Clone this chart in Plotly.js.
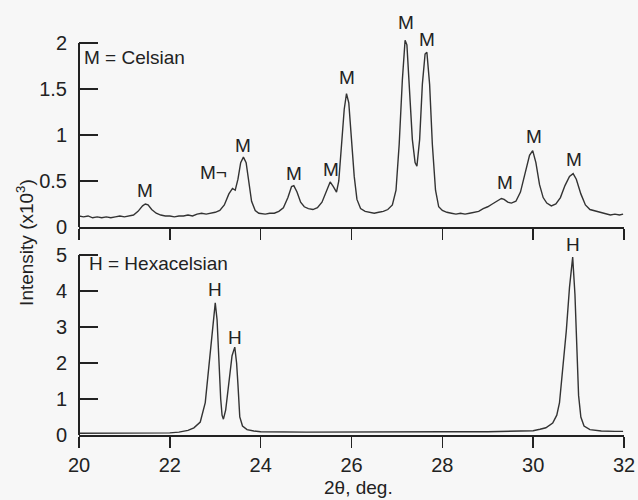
<!DOCTYPE html>
<html>
<head>
<meta charset="utf-8">
<script src="https://cdn.plot.ly/plotly-3.0.1.min.js"></script>
<style>html,body{margin:0;padding:0;background:#f7f7f7;}#chart{width:638px;height:500px;}</style>
</head>
<body>
<div id="chart"></div>
<script>
// Celsian pattern (top panel)
const celsianX = [20.00,20.10,20.20,20.30,20.40,20.50,20.60,20.70,20.80,20.90,21.00,21.10,21.20,21.30,21.40,21.46,21.52,21.60,21.70,21.80,21.90,22.00,22.10,22.20,22.30,22.40,22.50,22.60,22.70,22.80,22.90,23.00,23.10,23.20,23.30,23.38,23.44,23.50,23.56,23.62,23.68,23.74,23.80,23.88,23.96,24.10,24.20,24.30,24.40,24.50,24.60,24.68,24.73,24.80,24.88,24.96,25.05,25.15,25.25,25.35,25.45,25.53,25.60,25.67,25.72,25.78,25.84,25.89,25.94,26.00,26.06,26.12,26.20,26.30,26.40,26.50,26.60,26.70,26.80,26.90,26.98,27.05,27.12,27.18,27.22,27.28,27.34,27.40,27.44,27.50,27.56,27.62,27.66,27.72,27.78,27.85,27.92,28.00,28.10,28.20,28.30,28.40,28.50,28.60,28.70,28.80,28.90,29.00,29.10,29.20,29.30,29.36,29.44,29.52,29.62,29.72,29.82,29.92,29.99,30.06,30.14,30.22,30.30,30.40,30.50,30.60,30.70,30.80,30.88,30.95,31.05,31.15,31.25,31.40,31.50,31.60,31.70,31.80,31.90,31.98];
const celsianY = [0.12,0.11,0.12,0.10,0.11,0.10,0.11,0.10,0.11,0.12,0.11,0.12,0.13,0.17,0.23,0.25,0.24,0.19,0.15,0.13,0.12,0.12,0.11,0.12,0.12,0.13,0.12,0.14,0.15,0.14,0.15,0.16,0.18,0.24,0.36,0.42,0.40,0.52,0.70,0.76,0.70,0.48,0.28,0.18,0.15,0.14,0.15,0.15,0.17,0.21,0.32,0.44,0.45,0.38,0.27,0.22,0.20,0.19,0.21,0.27,0.40,0.49,0.44,0.38,0.50,0.85,1.28,1.45,1.35,0.95,0.55,0.30,0.20,0.17,0.16,0.15,0.16,0.17,0.19,0.24,0.40,0.90,1.60,2.03,1.98,1.45,0.95,0.70,0.66,0.95,1.55,1.88,1.90,1.55,0.90,0.40,0.22,0.18,0.16,0.15,0.14,0.15,0.14,0.15,0.16,0.17,0.20,0.22,0.25,0.28,0.31,0.30,0.27,0.26,0.28,0.38,0.58,0.78,0.83,0.70,0.46,0.32,0.26,0.23,0.25,0.32,0.45,0.55,0.58,0.52,0.36,0.24,0.19,0.17,0.15,0.14,0.13,0.14,0.13,0.14];

// Hexacelsian pattern (bottom panel)
const hexaX = [20.0,20.5,21.0,21.5,22.0,22.2,22.4,22.53,22.67,22.78,22.9,22.96,23.0,23.04,23.08,23.12,23.15,23.18,23.23,23.3,23.37,23.43,23.47,23.5,23.54,23.6,23.7,23.85,24.0,25.0,26.0,27.0,28.0,29.0,29.8,30.0,30.15,30.28,30.43,30.52,30.58,30.65,30.73,30.8,30.87,30.92,30.96,31.0,31.05,31.12,31.25,31.5,31.8,31.98];
const hexaY = [0.05,0.05,0.04,0.05,0.06,0.08,0.13,0.2,0.36,0.9,2.44,3.3,3.67,3.2,2.0,1.0,0.55,0.44,0.7,1.5,2.2,2.44,2.0,1.4,0.5,0.25,0.15,0.11,0.09,0.08,0.09,0.10,0.09,0.09,0.11,0.12,0.16,0.2,0.33,0.55,0.9,1.8,2.9,4.1,4.94,3.9,2.2,1.1,0.5,0.25,0.15,0.11,0.10,0.10];

// Peak labels
const mLabelX = [21.46,22.63,23.62,24.73,25.55,25.9,27.2,27.67,29.37,30.01,30.9];
const mLabelY = [0.40,0.59,0.89,0.58,0.62,1.63,2.22,2.04,0.48,0.98,0.73];
const mLabelText = ["M","M¬","M","M","M","M","M","M","M","M","M"];
const hLabelX = [23.0,23.43,30.87];
const hLabelY = [4.05,2.72,5.28];
const hLabelText = ["H","H","H"];

const xTicks = [20,22,24,26,28,30,32];
const topTicks = [0,0.5,1,1.5,2];
const topTickText = ["0","0.5","1","1.5","2"];
const botTicks = [0,1,2,3,4,5];

const ink = '#222222';
const lineInk = '#333333';
const fontFam = 'Liberation Sans, Arial, sans-serif';
const labelFont = {size:19, color:ink, family:fontFam};

const traces = [
  {x: celsianX, y: celsianY, xaxis:'x', yaxis:'y', mode:'lines', line:{color:lineInk, width:1.4}, hoverinfo:'skip'},
  {x: hexaX, y: hexaY, xaxis:'x2', yaxis:'y2', mode:'lines', line:{color:lineInk, width:1.4}, hoverinfo:'skip'}
];

const annotations = [];
mLabelX.forEach((x,i)=>annotations.push({x:x, y:mLabelY[i], xref:'x', yref:'y', text:mLabelText[i], showarrow:false,
  xanchor: mLabelText[i]==='M' ? 'center' : 'left', yanchor:'middle', font:labelFont}));
hLabelX.forEach((x,i)=>annotations.push({x:x, y:hLabelY[i], xref:'x2', yref:'y2', text:hLabelText[i], showarrow:false,
  xanchor:'center', yanchor:'middle', font:labelFont}));
annotations.push({x:0, y:0.783, xref:'x domain', yref:'y domain', xshift:3, text:'M = Celsian', showarrow:false,
  xanchor:'left', yanchor:'middle', font:labelFont});
annotations.push({x:0, y:0.873, xref:'x2 domain', yref:'y2 domain', xshift:8, text:'H = Hexacelsian', showarrow:false,
  xanchor:'left', yanchor:'middle', font:labelFont});
annotations.push({x:0, y:0.452, xref:'paper', yref:'paper', xshift:-54, text:'Intensity (x10<sup>3</sup>)', textangle:-90,
  showarrow:false, xanchor:'center', yanchor:'middle', font:labelFont});
annotations.push({x:0.5, y:0, xref:'paper', yref:'paper', xshift:7, yshift:-52, text:'2θ, deg.', showarrow:false,
  xanchor:'center', yanchor:'middle', font:labelFont});

const shapes = [
  {type:'line', xref:'x domain', yref:'y', x0:0, x1:0, y0:0, y1:2, line:{color:ink, width:2}},
  {type:'line', xref:'x2 domain', yref:'y2', x0:0, x1:0, y0:0, y1:5, line:{color:ink, width:2}}
];

const xCommon = {range:[20,32], tickvals:xTicks, ticks:'outside', ticklen:11, tickwidth:1.5, tickcolor:ink,
  showline:true, linecolor:ink, linewidth:2, showgrid:false, zeroline:false, fixedrange:true,
  tickfont:{size:20, color:ink, family:fontFam}};

const layout = {
  width:638, height:500,
  margin:{l:79, r:14, t:10, b:65},
  paper_bgcolor:'#f7f7f7', plot_bgcolor:'#f7f7f7',
  showlegend:false,
  xaxis: Object.assign({}, xCommon, {anchor:'y', showticklabels:false}),
  xaxis2: Object.assign({}, xCommon, {anchor:'y2', showticklabels:true}),
  yaxis: {domain:[0.4894,1], range:[0,2.359], tickvals:topTicks, ticktext:topTickText, ticks:'inside', ticklen:19,
    tickwidth:1.5, tickcolor:ink, showline:false, showgrid:false, zeroline:false, ticklabelstandoff:11,
    tickfont:{size:20, color:ink, family:fontFam}, fixedrange:true},
  yaxis2: {domain:[0,0.4635], range:[0,5.47], tickvals:botTicks, ticks:'inside', ticklen:19,
    tickwidth:1.5, tickcolor:ink, showline:false, showgrid:false, zeroline:false, ticklabelstandoff:11,
    tickfont:{size:20, color:ink, family:fontFam}, fixedrange:true},
  annotations: annotations,
  shapes: shapes
};

Plotly.newPlot('chart', traces, layout, {staticPlot:true, displayModeBar:false});
</script>
</body>
</html>
